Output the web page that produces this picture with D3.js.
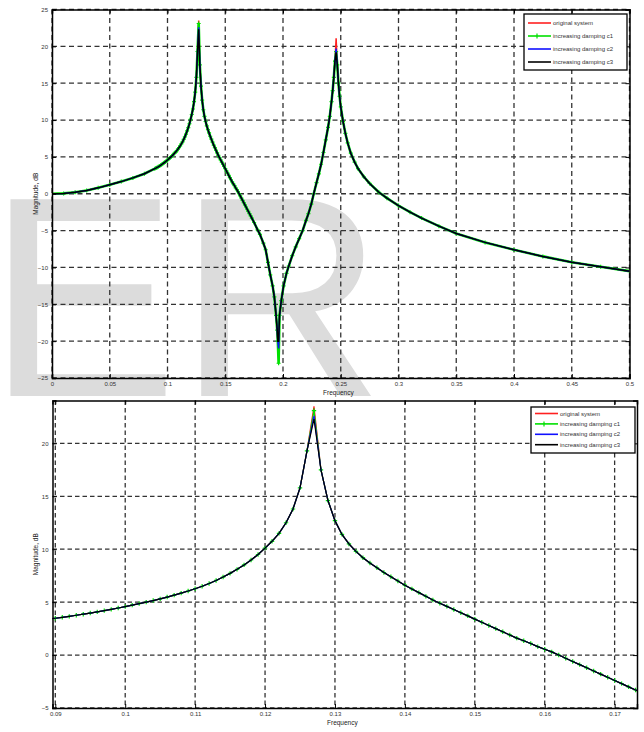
<!DOCTYPE html>
<html lang="en">
<head>
<meta charset="utf-8">
<title>Magnitude response, increasing damping</title>
<script src="https://cdn.jsdelivr.net/npm/d3@7"></script>
<style>
  body { margin: 0; background: #fff; }
  svg { display: block; }
  .Axis path, .Axis line { stroke: #000; }
  .Axis text { font-family: "Liberation Sans", Arial, sans-serif; font-size: 6px; fill: #333; }
  .Label { font-family: "Liberation Sans", Arial, sans-serif; font-size: 6.5px; fill: #222; }
  .Legend text { font-family: "Liberation Sans", Arial, sans-serif; font-size: 6px; fill: #333; }
</style>
</head>
<body>
<script>

// frequency points (normalised) shared by all responses
var freqs = [0, 0.01, 0.02, 0.03, 0.04, 0.05, 0.06, 0.07, 0.08,
  0.089, 0.09, 0.091, 0.092, 0.093, 0.094, 0.095, 0.096, 0.097, 0.098, 0.099,
  0.1, 0.101, 0.102, 0.103, 0.104, 0.105, 0.106, 0.107, 0.108, 0.109,
  0.11, 0.111, 0.112, 0.113, 0.114, 0.115, 0.116, 0.117, 0.118, 0.119,
  0.12, 0.121, 0.122, 0.123, 0.124, 0.125, 0.126, 0.127, 0.128, 0.129,
  0.13, 0.131, 0.132, 0.133, 0.134, 0.135, 0.136, 0.137, 0.138, 0.139,
  0.14, 0.141, 0.142, 0.143, 0.144, 0.145, 0.146, 0.147, 0.148, 0.149,
  0.15, 0.151, 0.152, 0.153, 0.154, 0.155, 0.156, 0.157, 0.158, 0.159,
  0.16, 0.161, 0.162, 0.163, 0.164, 0.165, 0.166, 0.167, 0.168, 0.169,
  0.17, 0.171, 0.172, 0.173,
  0.175, 0.178, 0.18, 0.183, 0.185, 0.187, 0.189, 0.191, 0.1925, 0.194, 0.195, 0.1955,
  0.1962,
  0.197, 0.1985, 0.2005, 0.203, 0.205, 0.208, 0.211, 0.214, 0.217, 0.22, 0.222, 0.2245,
  0.2266, 0.229, 0.231, 0.233, 0.235, 0.237, 0.239, 0.2405, 0.242, 0.243, 0.244, 0.245,
  0.246,
  0.247, 0.248, 0.249, 0.25, 0.252, 0.254, 0.256, 0.2587, 0.262, 0.265, 0.27, 0.275,
  0.283, 0.29, 0.3, 0.31, 0.32, 0.335, 0.35, 0.375, 0.4, 0.425, 0.45, 0.475, 0.5];

// magnitude in dB common to all four responses (null where they differ)
var magBase = [0, 0.05, 0.2, 0.45, 0.8, 1.22, 1.65, 2.15, 2.72,
  3.4, 3.48, 3.57, 3.66, 3.76, 3.86, 3.97, 4.08, 4.2, 4.32, 4.45,
  4.58, 4.72, 4.86, 5.0, 5.15, 5.31, 5.48, 5.66, 5.85, 6.05,
  6.27, 6.5, 6.76, 7.05, 7.37, 7.72, 8.1, 8.52, 8.98, 9.5,
  10.1, 10.75, 11.5, 12.5, 13.8, 15.8, 19.3, null, 17.5, 14.6,
  12.7, 11.4, 10.5, 9.8, 9.2, 8.7, 8.25, 7.8, 7.4, 7.0,
  6.6, 6.25, 5.9, 5.55, 5.2, 4.9, 4.6, 4.3, 4.0, 3.7,
  3.4, 3.1, 2.8, 2.5, 2.2, 1.9, 1.6, 1.35, 1.1, 0.8,
  0.55, 0.3, 0.0, -0.3, -0.6, -0.9, -1.2, -1.5, -1.8, -2.1,
  -2.4, -2.7, -3.0, -3.3,
  -3.9, -4.9, -5.5, -6.7, -7.6, -9.3, -11.0, -12.5, -14.0, -16.5, -18.5, -20.0,
  null,
  -16.5, -14.5, -12.5, -10.8, -9.8, -8.4, -7.2, -6.1, -5.0, -3.6, -2.7, -1.4,
  0, 1.5, 2.7, 4.0, 5.6, 7.3, 9.0, 10.5, 12.5, 14.0, 15.8, 18.0,
  null,
  17.5, 15.0, 13.2, 11.8, 9.8, 8.2, 6.9, 5.5, 4.3, 3.4, 2.3, 1.4,
  0.2, -0.6, -1.6, -2.5, -3.3, -4.4, -5.4, -6.6, -7.6, -8.5, -9.3, -9.9, -10.5];

// values at the two resonances and the anti-resonance (the null slots above)
var peakFreqs   = [0.127, 0.1962, 0.246];
var magOriginal = [23.5, -21.5, 21.1];
var magC1       = [23.1, -23.0, 19.3];
var magC2       = [22.6, -21.0, 19.7];
var magC3       = [22.3, -20.0, 19.2];

var seriesNames  = ["original system", "increasing damping c1", "increasing damping c2", "increasing damping c3"];
var seriesColors = ["#ff2020", "#00e000", "#1010ff", "#000000"];
var seriesPeaks  = [magOriginal, magC1, magC2, magC3];

// tick values
var topXTicks  = [0, 0.05, 0.1, 0.15, 0.2, 0.25, 0.3, 0.35, 0.4, 0.45, 0.5];
var topYTicks  = [-25, -20, -15, -10, -5, 0, 5, 10, 15, 20, 25];
var zoomXTicks = [0.09, 0.1, 0.11, 0.12, 0.13, 0.14, 0.15, 0.16, 0.17];
var zoomYTicks = [-5, 0, 5, 10, 15, 20];

//Build each response as [freq, dB] pairs
var series = seriesNames.map(function(name, i) {
  var vals = freqs.map(function(f, k) {
    var v = magBase[k];
    if (v === null) v = seriesPeaks[i][peakFreqs.indexOf(f)];
    return [f, v];
  });
  return { name: name, color: seriesColors[i], values: vals };
});

var w = 644, h = 732;
var svg = d3.select("body").append("svg").attr("width", w).attr("height", h);

// watermark behind the upper plot
svg.append("text")
   .attr("x", -13).attr("y", 396)
   .style("font-family", "'Liberation Sans', Arial, sans-serif")
   .style("font-size", "286px")
   .attr("fill", "#dcdcdc")
   .text("ER");

function drawPanel(cfg) {
  var g = svg.append("g");
  var xScale = d3.scaleLinear().domain(cfg.xDomain).range([cfg.left, cfg.right]);
  var yScale = d3.scaleLinear().domain(cfg.yDomain).range([cfg.bottom, cfg.top]);

  if (cfg.white) {
    g.append("rect").attr("x", cfg.left).attr("y", cfg.top)
     .attr("width", cfg.right - cfg.left).attr("height", cfg.bottom - cfg.top)
     .attr("fill", "#fff");
  }

  //Grid
  g.selectAll(".vg").data(cfg.xTicks).enter().append("line")
   .attr("x1", function(d) { return xScale(d); }).attr("x2", function(d) { return xScale(d); })
   .attr("y1", cfg.top).attr("y2", cfg.bottom)
   .attr("stroke", "#333").attr("stroke-width", 1.3).attr("stroke-dasharray", cfg.dash);
  g.selectAll(".hg").data(cfg.yTicks).enter().append("line")
   .attr("y1", function(d) { return yScale(d); }).attr("y2", function(d) { return yScale(d); })
   .attr("x1", cfg.left).attr("x2", cfg.right)
   .attr("stroke", "#333").attr("stroke-width", 1.3).attr("stroke-dasharray", cfg.dash);

  //Clip for curves
  var clipId = "clip" + cfg.id;
  svg.append("clipPath").attr("id", clipId).append("rect")
     .attr("x", cfg.left).attr("y", cfg.top)
     .attr("width", cfg.right - cfg.left).attr("height", cfg.bottom - cfg.top);

  var line = d3.line()
               .x(function(d) { return xScale(d[0]); })
               .y(function(d) { return yScale(d[1]); });

  var curves = g.append("g").attr("clip-path", "url(#" + clipId + ")");
  series.forEach(function(s, i) {
    curves.append("path")
          .attr("d", line(s.values))
          .attr("fill", "none")
          .attr("stroke", s.color)
          .attr("stroke-width", i === 1 ? cfg.greenWidth : cfg.lineWidth);
    if (i === 1) {
      var m = cfg.marker;
      curves.selectAll(".mk" + cfg.id).data(s.values).enter().append("path")
            .attr("d", function(d) {
              var cx = xScale(d[0]), cy = yScale(d[1]);
              return "M" + (cx - m) + "," + cy + "H" + (cx + m) + "M" + cx + "," + (cy - m) + "V" + (cy + m);
            })
            .attr("stroke", s.color).attr("stroke-width", 1.2);
    }
  });

  //Axes with inward ticks
  var fmt = d3.format("~g");
  g.append("g").classed("Axis", true)
   .attr("transform", "translate(0," + cfg.bottom + ")")
   .call(d3.axisBottom(xScale).tickValues(cfg.xTicks).tickSize(-4).tickPadding(4).tickFormat(fmt));
  g.append("g").classed("Axis", true)
   .attr("transform", "translate(" + cfg.left + ",0)")
   .call(d3.axisLeft(yScale).tickValues(cfg.yTicks).tickSize(-4).tickPadding(4).tickFormat(fmt));
  g.append("g").classed("Axis", true)
   .attr("transform", "translate(0," + cfg.top + ")")
   .call(d3.axisTop(xScale).tickValues(cfg.xTicks).tickSize(-4).tickFormat(""));
  g.append("g").classed("Axis", true)
   .attr("transform", "translate(" + cfg.right + ",0)")
   .call(d3.axisRight(yScale).tickValues(cfg.yTicks).tickSize(-4).tickFormat(""));
  g.selectAll(".Axis path").attr("stroke-width", 1.5);

  //Axis labels
  g.append("text").classed("Label", true)
   .attr("x", cfg.xLabelX).attr("y", cfg.xLabelY).text("Frequency");
  g.append("text").classed("Label", true)
   .attr("transform", "translate(38," + (cfg.top + cfg.bottom) / 2 + ") rotate(-90)")
   .attr("text-anchor", "middle").text("Magnitude, dB");

  //Legend
  var L = cfg.legend;
  var lg = g.append("g").classed("Legend", true);
  lg.append("rect").attr("x", L.x).attr("y", L.y).attr("width", L.w).attr("height", L.h)
    .attr("fill", "#fff").attr("stroke", "#000").attr("stroke-width", 1.3);
  series.forEach(function(s, i) {
    var yy = L.y + L.first + i * L.step;
    lg.append("line").attr("x1", L.x + 4).attr("x2", L.x + 27).attr("y1", yy).attr("y2", yy)
      .attr("stroke", s.color).attr("stroke-width", 1.6);
    if (i === 1) {
      lg.append("path").attr("d", "M" + (L.x + 13) + "," + (yy - 2.5) + "V" + (yy + 2.5))
        .attr("stroke", s.color).attr("stroke-width", 1.2);
    }
    lg.append("text").attr("x", L.x + 29).attr("y", yy + 2).text(s.name);
  });
}

drawPanel({
  id: "Top", left: 52, right: 629.5, top: 9.5, bottom: 378,
  xDomain: [0, 0.5], yDomain: [-25, 25],
  xTicks: topXTicks, yTicks: topYTicks,
  dash: "5,3.5", lineWidth: 1.5, greenWidth: 2.6, marker: 2,
  white: false, xLabelX: 323, xLabelY: 395,
  legend: { x: 524, y: 14, w: 103, h: 56, first: 9, step: 13 }
});

drawPanel({
  id: "Zoom", left: 52.5, right: 637, top: 400.5, bottom: 708,
  xDomain: [0.0896, 0.1732], yDomain: [-5, 24.05],
  xTicks: zoomXTicks, yTicks: zoomYTicks,
  dash: "4.5,3", lineWidth: 1.2, greenWidth: 1.2, marker: 2.2,
  white: true, xLabelX: 327, xLabelY: 725,
  legend: { x: 531, y: 407, w: 104, h: 46, first: 6.5, step: 10.4 }
});

</script>
</body>
</html>
